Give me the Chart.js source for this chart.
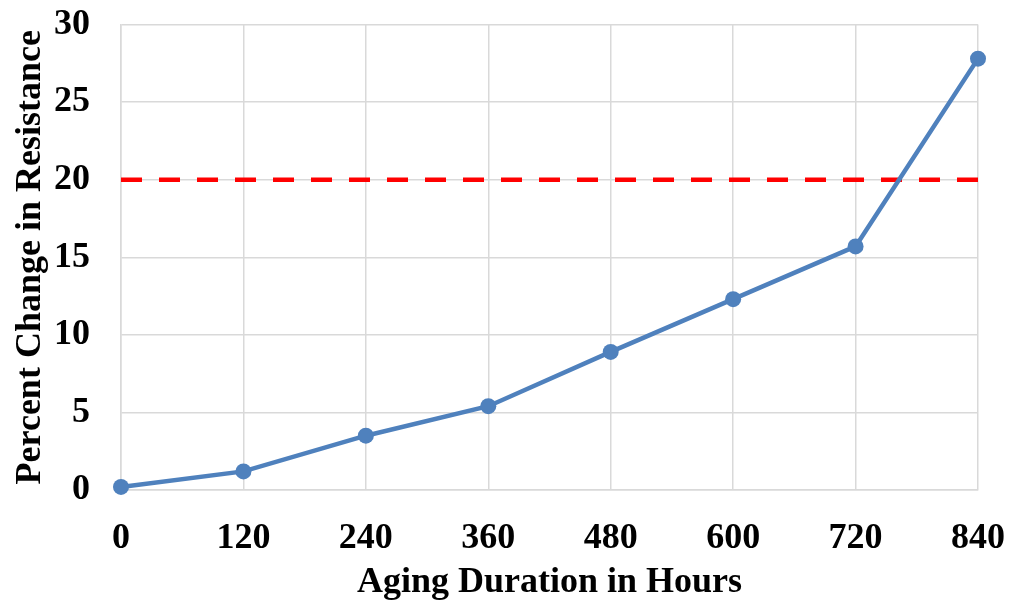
<!DOCTYPE html>
<html>
<head>
<meta charset="utf-8">
<script src="https://cdn.jsdelivr.net/npm/chart.js@4/dist/chart.umd.min.js"></script>
<style>
html,body{margin:0;padding:0;background:#fff;}
#wrap{width:1010px;height:602px;position:relative;}
</style>
</head>
<body>
<div id="wrap"><canvas id="c" width="1010" height="602"></canvas></div>
<script>
const hours = [0, 120, 240, 360, 480, 600, 720, 840];
const percentChange = [0.2, 1.2, 3.5, 5.4, 8.9, 12.3, 15.7, 27.8];
const thresholdX = [0, 840];
const thresholdY = [20, 20];
const xTitle = 'Aging Duration in Hours';
const yTitle = 'Percent Change in Resistance';

const font = 'Liberation Serif';
new Chart(document.getElementById('c'), {
  type: 'line',
  data: {
    datasets: [
      {
        label: 'Threshold',
        data: thresholdX.map((x, i) => ({x: x, y: thresholdY[i]})),
        borderColor: '#ff0000',
        borderWidth: 4.5,
        borderDash: [21, 17],
        pointRadius: 0,
        fill: false,
        order: 2
      },
      {
        label: 'Percent Change',
        data: hours.map((x, i) => ({x: x, y: percentChange[i]})),
        borderColor: '#4f81bd',
        backgroundColor: '#4f81bd',
        borderWidth: 4.5,
        pointRadius: 8,
        pointHoverRadius: 8,
        pointBorderWidth: 0,
        fill: false,
        clip: false,
        order: 1
      }
    ]
  },
  options: {
    responsive: false,
    animation: false,
    layout: {padding: {top: 24.5, right: 32, left: 0, bottom: 0}},
    plugins: {legend: {display: false}, tooltip: {enabled: false}},
    scales: {
      x: {
        type: 'linear',
        min: 0, max: 840,
        afterFit: s => { s.height = 112; s.paddingLeft = 0; s.paddingRight = 0; },
        ticks: {stepSize: 120, color: '#000', padding: 27, font: {family: font, size: 36, weight: 'bold'}, maxRotation: 0},
        grid: {color: '#d9d9d9', lineWidth: 1.5, drawTicks: false},
        border: {color: '#d9d9d9', width: 1.5},
        title: {display: true, text: xTitle, color: '#000', padding: {top: 0, bottom: 1.5}, font: {family: font, size: 36, weight: 'bold', lineHeight: 1.0}}
      },
      y: {
        min: 0, max: 30,
        afterFit: s => { s.width = 121; s.paddingTop = 0; s.paddingBottom = 0; },
        ticks: {stepSize: 5, color: '#000', padding: 31, font: {family: font, size: 36, weight: 'bold'}},
        grid: {color: '#d9d9d9', lineWidth: 1.5, drawTicks: false},
        border: {color: '#d9d9d9', width: 1.5},
        title: {display: true, text: yTitle, color: '#000', padding: {top: 13, bottom: 0}, font: {family: font, size: 36, weight: 'bold', lineHeight: 1.0}}
      }
    }
  }
});
</script>
</body>
</html>
